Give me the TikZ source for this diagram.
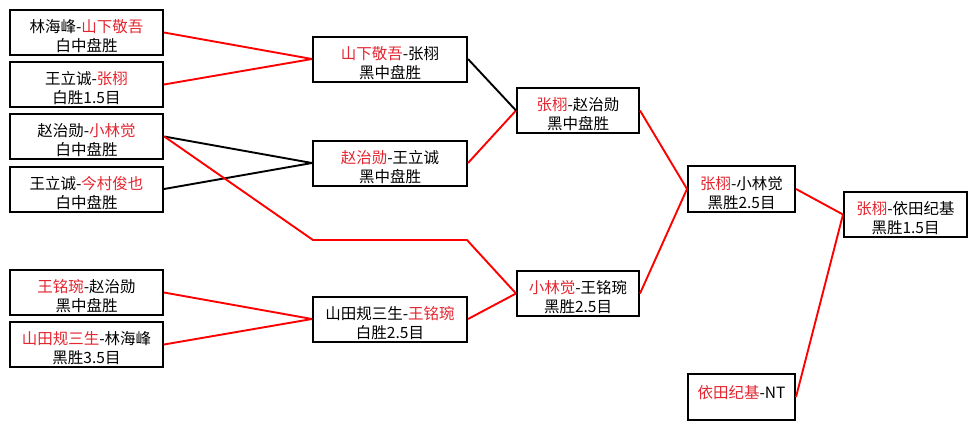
\documentclass[tikz,border=0pt]{standalone}
\usepackage{fontspec}
\setmainfont{Noto Sans CJK SC}
\definecolor{winred}{RGB}{228,38,48}
\newcommand\W[1]{\textcolor{winred}{#1}}
\newcommand\gm[2]{\rule{0pt}{21pt}#1\\#2}

\begin{document}
\begin{tikzpicture}[x=1pt,y=-1pt,
    game/.style={draw,line width=2pt,align=center,inner sep=0pt,
        font=\fontsize{15.5}{19}\selectfont},
    wide/.style={minimum width=153pt,minimum height=45pt},
    mid/.style={minimum width=122pt,minimum height=45pt},
    small/.style={minimum width=107pt,minimum height=46pt},
    win/.style={red,line width=1.9pt,line join=round},
    lose/.style={black,line width=1.9pt}]
        \useasboundingbox[fill=white] (0,0) rectangle (977,429);
        \node[game,wide] (a1) at (86.5,32.5) {\gm{林海峰-\W{山下敬吾}}{白中盘胜}};
        \node[game,wide] (a2) at (86.5,84.5) {\gm{王立诚-\W{张栩}}{白胜1.5目}};
        \node[game,wide,line width=2.5pt] (a3) at (86.5,136.5) {\gm{赵治勋-\W{小林觉}}{白中盘胜}};
        \node[game,wide] (a4) at (86.5,189) {\gm{王立诚-\W{今村俊也}}{白中盘胜}};
        \node[game,wide] (a5) at (86.5,292.5) {\gm{\W{王铭琬}-赵治勋}{黑中盘胜}};
        \node[game,wide] (a6) at (86.5,344.5) {\gm{\W{山田规三生}-林海峰}{黑胜3.5目}};
        \node[game,wide,minimum width=154pt] (b1) at (390,59) {\gm{\W{山下敬吾}-张栩}{黑中盘胜}};
        \node[game,wide,minimum width=154pt] (b2) at (390,163) {\gm{\W{赵治勋}-王立诚}{黑中盘胜}};
        \node[game,wide,minimum width=154pt] (b3) at (390,319) {\gm{山田规三生-\W{王铭琬}}{白胜2.5目}};
        \node[game,mid] (c1) at (578,110.5) {\gm{\W{张栩}-赵治勋}{黑中盘胜}};
        \node[game,mid] (c2) at (578,293.5) {\gm{\W{小林觉}-王铭琬}{黑胜2.5目}};
        \node[game,small] (d1) at (741.5,189) {\gm{\W{张栩}-小林觉}{黑胜2.5目}};
        \node[game,small] (d2) at (741.5,397) {\gm{\W{依田纪基}-NT}{~}};
        \node[game,mid,minimum width=123pt] (e1) at (905.5,214.5) {\gm{\W{张栩}-依田纪基}{黑胜1.5目}};
        \foreach \p/\q in {a1/b1,a2/b1,a5/b3,a6/b3,b2/c1,b3/c2,c1/d1,c2/d1,d1/e1,d2/e1}{
            \draw[win] (\p.east) -- (\q.west);
        }
        \foreach \p/\q in {a3/b2,a4/b2,b1/c1}{
            \draw[lose] (\p.east) -- (\q.west);
        }
        \coordinate (k1) at (313,240);
        \coordinate (k2) at (467,240);
        \draw[win] (a3.east) -- (k1) -- (k2) -- (c2.west);
\end{tikzpicture}
\end{document}
